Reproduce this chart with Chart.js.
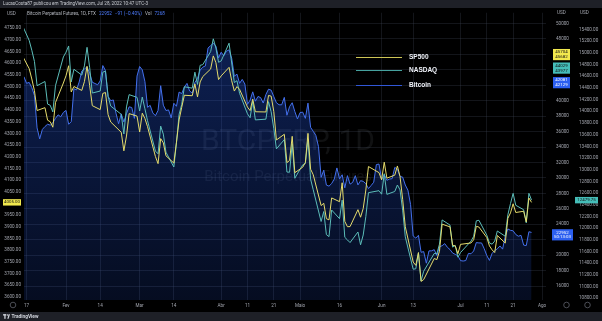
<!DOCTYPE html>
<html>
<head>
<meta charset="utf-8">
<script src="https://cdn.jsdelivr.net/npm/chart.js@4.4.0/dist/chart.umd.min.js"></script>
<style>
  html, body { margin: 0; padding: 0; background: #000; }
  #wrap { width: 602px; height: 321px; }
</style>
</head>
<body>
<div id="wrap"><canvas id="chart" width="602" height="321"></canvas></div>
<script>
// trading days (month-day, 2022) shared by SP500 and NASDAQ
const stockDates = [
  '01-14','01-18','01-19','01-20','01-21','01-24','01-25','01-26','01-27','01-28','01-31',
  '02-01','02-02','02-03','02-04','02-07','02-08','02-09','02-10','02-11','02-14','02-15','02-16','02-17','02-18','02-22','02-23','02-24','02-25','02-28',
  '03-01','03-02','03-03','03-04','03-07','03-08','03-09','03-10','03-11','03-14','03-15','03-16','03-17','03-18','03-21','03-22','03-23','03-24','03-25','03-28','03-29','03-30','03-31',
  '04-01','04-04','04-05','04-06','04-07','04-08','04-11','04-12','04-13','04-14','04-18','04-19','04-20','04-21','04-22','04-25','04-26','04-27','04-28','04-29',
  '05-02','05-03','05-04','05-05','05-06','05-09','05-10','05-11','05-12','05-13','05-16','05-17','05-18','05-19','05-20','05-23','05-24','05-25','05-26','05-27','05-31',
  '06-01','06-02','06-03','06-06','06-07','06-08','06-09','06-10','06-13','06-14','06-15','06-16','06-17','06-21','06-22','06-23','06-24','06-27','06-28','06-29','06-30',
  '07-01','07-05','07-06','07-07','07-08','07-11','07-12','07-13','07-14','07-15','07-18','07-19','07-20','07-21','07-22','07-25','07-26','07-27','07-28'
];
const sp500 = [
  4662.85, 4577.11, 4532.76, 4482.73, 4397.94, 4410.13, 4356.45, 4349.93, 4326.51, 4431.85, 4515.55,
  4546.54, 4589.38, 4477.44, 4500.53, 4483.87, 4521.54, 4587.18, 4504.08, 4418.64, 4401.67, 4471.07, 4475.01, 4380.26, 4348.87, 4304.76, 4225.50, 4288.70, 4384.65, 4373.94,
  4306.26, 4386.54, 4363.49, 4328.87, 4201.09, 4170.70, 4277.88, 4259.52, 4204.31, 4173.11, 4262.45, 4357.86, 4411.67, 4463.12, 4461.18, 4511.61, 4456.24, 4520.16, 4543.06, 4575.52, 4631.60, 4602.45, 4530.41,
  4545.86, 4582.64, 4525.12, 4481.15, 4500.21, 4488.28, 4412.53, 4397.45, 4446.59, 4392.59, 4391.69, 4462.21, 4459.45, 4393.66, 4271.78, 4296.12, 4175.20, 4183.96, 4287.50, 4131.93,
  4155.38, 4175.48, 4300.17, 4146.87, 4123.34, 3991.24, 4001.05, 3935.18, 3930.08, 4023.89, 4008.01, 4088.85, 3923.68, 3900.79, 3901.36, 3973.75, 3941.48, 3978.73, 4057.84, 4158.24, 4132.15,
  4101.23, 4176.82, 4108.54, 4121.43, 4160.68, 4115.77, 4017.82, 3900.86, 3749.63, 3735.48, 3789.99, 3666.77, 3674.84, 3764.79, 3759.89, 3795.73, 3911.74, 3900.11, 3821.55, 3818.83, 3785.38,
  3825.33, 3831.39, 3845.08, 3902.62, 3899.38, 3854.43, 3818.80, 3801.78, 3790.38, 3863.16, 3830.85, 3936.69, 3959.90, 3998.95, 3961.63, 3966.84, 3921.05, 4023.61, 4005.00
];
const nasdaq = [
  15611.96, 15212.8, 15044.4, 14853.6, 14438.7, 14510.3, 14123.9, 14103.4, 13990.0, 14439.0, 14930.1,
  15011.4, 15117.9, 14503.2, 14719.7, 14620.1, 14777.1, 15094.9, 14747.2, 14312.7, 14346.8, 14669.7, 14686.5, 14255.2, 14090.5, 13947.9, 13612.4, 14075.3, 14285.2, 14238.9,
  14005.9, 14244.5, 14043.3, 13838.5, 13319.4, 13272.6, 13747.1, 13610.1, 13301.8, 13046.6, 13458.6, 13949.0, 14118.6, 14420.0, 14396.1, 14669.5, 14460.0, 14786.9, 14798.4, 15022.7, 15240.8, 15083.0, 14838.5,
  14862.0, 15166.0, 14826.6, 14491.8, 14523.8, 14307.4, 13956.6, 13890.3, 14173.0, 13852.7, 13865.6, 14165.6, 13992.4, 13706.0, 13357.6, 13515.3, 12960.7, 12957.6, 13445.0, 12854.8,
  13084.4, 13108.0, 13523.8, 12840.0, 12658.0, 12115.0, 12285.0, 11890.0, 11856.0, 12311.0, 12163.0, 12480.0, 11844.0, 11799.0, 11754.0, 11935.0, 11716.0, 11884.0, 12199.0, 12608.0, 12642.0,
  12581.9, 12932.0, 12579.4, 12628.1, 12738.8, 12656.3, 12308.9, 11851.3, 11298.0, 11305.0, 11580.0, 11099.0, 11264.0, 11567.0, 11563.0, 11727.0, 12141.0, 12053.0, 11676.0, 11705.0, 11503.7,
  11583.4, 11779.4, 11860.5, 12125.7, 12135.0, 11880.0, 11748.0, 11726.0, 11780.0, 11952.0, 11862.0, 12230.0, 12421.0, 12596.0, 12392.0, 12316.0, 12091.0, 12597.0, 12479.75
];
// daily closes, first one on btcStart
const btcStart = '01-14';
const bitcoin = [
  43080, 43070, 43110, 42250, 42370, 41690, 40690, 36480, 35060, 36280, 36660, 36950, 36840, 37140, 37720, 38170, 37920, 38480,
  38740, 36950, 37290, 41550, 41400, 42410, 43840, 44110, 44370, 43550, 42390, 42230, 42070, 42560, 44550, 43910, 40570, 40000, 40100, 38390, 37020, 38300, 37250, 38330, 39210, 39120, 37710, 43190,
  44430, 44000, 42470, 39150, 39400, 38420, 38060, 38740, 41940, 39420, 38730, 38810, 37780, 39670, 39280, 41120, 40920, 41770, 42240, 41260, 41000, 42360, 42890, 43960, 44350, 44500, 46820, 47130, 47450, 47060, 45540,
  46280, 45810, 46410, 46580, 45500, 43170, 43440, 42250, 42760, 42160, 39530, 40080, 41150, 39940, 40550, 40400, 39700, 40800, 41490, 41370, 40530, 39740, 39470, 39470, 40430, 38120, 39240, 39740, 38600, 37640,
  38470, 38520, 37720, 39690, 36550, 36040, 35500, 34060, 30080, 31010, 29080, 28940, 29280, 29860, 31300, 29890, 30420, 28720, 30300, 29200, 29430, 30300, 29100, 29650, 29560, 29260, 28630, 29020, 29450, 31730, 31800,
  29800, 30450, 29700, 29860, 29910, 31370, 31130, 30200, 30110, 29090, 28420, 26580, 22490, 22210, 22580, 20380, 20470, 18970, 20560, 20570, 20720, 19970, 21100, 21230, 21500, 21030, 20730, 20280, 20110, 19930,
  19300, 19250, 19310, 20230, 20190, 20550, 21640, 21590, 21590, 20850, 19950, 19330, 20230, 20590, 20830, 21200, 20790, 22420, 23400, 23220, 23160, 22680, 22460, 22580, 21310, 21250, 23043, 22952
];

const xTickDates = ['01-17','02-01','02-14','03-01','03-14','04-01','04-11','04-21','05-01','05-16','06-01','06-13','07-01','07-11','07-21','08-01'];
const xTickLabels = ['17','Fev','14','Mar','14','Abr','11','21','Maio','16','Jun','13','Jul','11','21','Ago'];
const spTicks = [3600,3650,3700,3750,3800,3850,3900,3950,4000,4050,4100,4150,4200,4250,4300,4350,4400,4450,4500,4550,4600,4650,4700,4750];
const nasdaqTicks = [10800,11000,11200,11400,11600,11800,12000,12200,12400,12600,12800,13000,13200,13400,13600,13800,14000,14200,14400,14600,14800,15000,15200,15400];
const btcTicks = [16000,18000,20000,22000,24000,26000,28000,30000,32000,34000,36000,38000,40000,42000,44000,46000,48000,50000];

const legendNames = ['SP500', 'NASDAQ', 'Bitcoin'];
const legendLevels = [45700, 43950, 42065];   // where the legend lines sit on the bitcoin scale
const legendBoxText = [['45704', '45682'], ['44029', '43977'], ['42081', '42129']];

const YELLOW = '#e5dc6c', TEAL = '#5cbdb9', BLUE = '#4470ec';
const legendColors = ['#cdc556', '#46a29e', '#3157d6'];
const GRID = 'rgba(70,76,92,0.28)';
const LABEL = '#a3a6af';

function dayOf(md) {
  const [m, d] = md.split('-').map(Number);
  return (Date.UTC(2022, m - 1, d) - Date.UTC(2022, 0, 1)) / 86400000;
}
const xTickDays = xTickDates.map(dayOf);

const spPoints = stockDates.map((d, i) => ({ x: dayOf(d), y: sp500[i] }));
const nqPoints = stockDates.map((d, i) => ({ x: dayOf(d), y: nasdaq[i] }));
const btcPoints = bitcoin.map((v, i) => ({ x: dayOf(btcStart) + i, y: v }));

const lastSp = sp500[sp500.length - 1];
const lastNq = nasdaq[nasdaq.length - 1];
const lastBtc = bitcoin[bitcoin.length - 1];

const tickFont = { family: 'Roboto', size: 4.6 };

function setTicks(list) {
  return function (scale) { scale.ticks = list.map(v => ({ value: v })); };
}

const frame = {
  id: 'frame',
  beforeDraw(chart) {
    const c = chart.ctx;
    c.save();
    c.fillStyle = '#000';
    c.fillRect(0, 0, chart.width, chart.height);
    c.fillStyle = '#1e2027';
    c.fillRect(0, 0, chart.width, 8);
    c.fillRect(0, 312, chart.width, 9);
    c.restore();
  },
  beforeDatasetsDraw(chart) {
    const c = chart.ctx, a = chart.chartArea;
    c.save();
    c.beginPath(); c.rect(a.left, a.top, a.right - a.left, a.bottom - a.top); c.clip();
    c.fillStyle = 'rgba(130,136,152,0.12)';
    c.textAlign = 'center';
    c.textBaseline = 'alphabetic';
    c.font = '30px Roboto';
    c.fillText('BTCPERP, 1D', 288, 150);
    c.font = '15px Roboto';
    c.fillText('Bitcoin Perpetual Futures', 288, 181);
    c.restore();
  },
  afterDraw(chart) {
    const c = chart.ctx, s = chart.scales;
    c.save();
    c.textBaseline = 'middle';

    // top line
    c.font = '4.6px Roboto';
    c.fillStyle = '#c9ccd3';
    c.textAlign = 'left';
    c.fillText('LucasCosta87 publicou em TradingView.com, Jul 28, 2022 10:47 UTC-3', 3, 4.2);

    // pane header
    let x = 27;
    const parts = [['Bitcoin Perpetual Futures, 1D, FTX', '#b5b8c0'], [String(lastBtc), '#4d7cff'],
      ['\u221291 (\u22120.40%)', '#4d7cff'], ['Vol', '#b5b8c0'], ['7268', '#4d7cff']];
    parts.forEach(([t, col]) => {
      c.fillStyle = col;
      c.fillText(t, x, 14);
      x += c.measureText(t).width + 3;
    });

    // currency captions
    c.fillStyle = LABEL;
    c.fillText('USD', 7, 14);
    c.fillText('USD', 557, 12.7);
    c.fillText('USD', 580, 12.7);

    // drawn legend
    legendNames.forEach((name, i) => {
      const y = Math.round(s.yBtc.getPixelForValue(legendLevels[i])) + 0.5;
      c.strokeStyle = legendColors[i];
      c.lineWidth = 1.2;
      c.beginPath(); c.moveTo(356, y); c.lineTo(402, y); c.stroke();
      c.fillStyle = '#f0f3fa';
      c.font = 'bold 6.5px "Liberation Sans"';
      c.fillText(name, 409, y);
    });

    // price labels on the scales
    function box(x0, w, yc, lines, bg, fg) {
      const h = lines.length * 4.8 + 1.6;
      c.fillStyle = bg;
      c.fillRect(x0, yc - 3.2, w, h);
      c.fillStyle = fg;
      c.font = '4.4px Roboto';
      c.textAlign = 'center';
      lines.forEach((t, k) => c.fillText(t, x0 + w / 2, yc + k * 4.8));
    }
    legendNames.forEach((name, i) => {
      const yc = s.yBtc.getPixelForValue(legendLevels[i]) - 4.5;
      box(553, 17, yc, legendBoxText[i], ['#f2e94e', '#45bdb8', '#2c5ff0'][i], i === 2 ? '#fff' : '#111');
    });
    box(552, 21, s.yBtc.getPixelForValue(lastBtc), [String(lastBtc), '50:13:03'], '#2c5ff0', '#fff');
    box(575, 23, s.yNq.getPixelForValue(lastNq), [lastNq.toFixed(2)], '#45bdb8', '#111');
    box(3, 18, s.ySp.getPixelForValue(lastSp), [lastSp.toFixed(2)], '#f2e94e', '#111');

    // small scale buttons
    c.strokeStyle = '#6a6d78';
    c.lineWidth = 0.7;
    [13, 566.5, 587.5].forEach(cx => { c.beginPath(); c.arc(cx, 305, 2.8, 0, Math.PI * 2); c.stroke(); });

    // footer logo
    c.fillStyle = '#d1d4dc';
    c.fillRect(3, 314.2, 3.2, 1.3);
    c.fillRect(4.3, 314.2, 1.3, 4.6);
    c.beginPath(); c.arc(7.4, 315, 0.8, 0, Math.PI * 2); c.fill();
    c.beginPath(); c.moveTo(8.6, 314.2); c.lineTo(10, 314.2); c.lineTo(8.6, 318.8); c.lineTo(7.3, 318.8); c.fill();
    c.textAlign = 'left';
    c.font = 'bold 4.8px Roboto';
    c.fillText('TradingView', 11.5, 316.6);
    c.restore();
  }
};

const ctx = document.getElementById('chart').getContext('2d');
new Chart(ctx, {
  type: 'line',
  data: {
    datasets: [
      {
        label: 'Bitcoin', data: btcPoints, yAxisID: 'yBtc', order: 3,
        borderColor: BLUE, borderWidth: 1, pointRadius: 0, tension: 0,
        fill: 'start',
        backgroundColor(context) {
          const a = context.chart.chartArea;
          if (!a) return 'rgba(41,98,255,0.2)';
          const g = context.chart.ctx.createLinearGradient(0, a.top, 0, a.bottom);
          g.addColorStop(0, 'rgba(41,98,255,0.34)');
          g.addColorStop(1, 'rgba(41,98,255,0.13)');
          return g;
        }
      },
      {
        label: 'NASDAQ', data: nqPoints, yAxisID: 'yNq', order: 2,
        borderColor: TEAL, borderWidth: 1, pointRadius: 0, tension: 0, fill: false
      },
      {
        label: 'SP500', data: spPoints, yAxisID: 'ySp', order: 1,
        borderColor: YELLOW, borderWidth: 1, pointRadius: 0, tension: 0, fill: false
      }
    ]
  },
  options: {
    responsive: false,
    animation: false,
    layout: { padding: { top: 10, left: 0, right: 0, bottom: 0 }, autoPadding: false },
    plugins: { legend: { display: false }, tooltip: { enabled: false } },
    scales: {
      x: {
        type: 'linear', min: 15.03, max: 213.5,
        afterFit(scale) { scale.height = 21; },
        afterBuildTicks(scale) { scale.ticks = xTickDays.map(v => ({ value: v })); },
        ticks: {
          callback: v => { const i = xTickDays.indexOf(v); return i >= 0 ? xTickLabels[i] : ''; },
          font: tickFont, color: LABEL, padding: 3, maxRotation: 0, autoSkip: false
        },
        grid: { color: GRID, drawTicks: false },
        border: { display: false }
      },
      ySp: {
        position: 'left', min: 3587.3, max: 4816.1,
        afterFit(scale) { scale.width = 24; },
        afterBuildTicks: setTicks(spTicks),
        ticks: {
          callback: v => Math.abs(v - lastSp) < 25 ? '' : v.toFixed(2),
          font: tickFont, color: LABEL, padding: 3, autoSkip: false
        },
        grid: { display: false, drawTicks: false },
        border: { display: false }
      },
      yBtc: {
        position: 'right', weight: 1, min: 14205, max: 51385,
        afterFit(scale) { scale.width = 28; },
        afterBuildTicks: setTicks(btcTicks),
        ticks: {
          callback: v => {
            if (v - lastBtc > -1500 && v - lastBtc < 700) return '';
            if (legendLevels.some(p => Math.abs(v - p) < 1000)) return '';
            return String(v);
          },
          font: tickFont, color: LABEL, padding: 10, autoSkip: false
        },
        grid: { color: GRID, drawTicks: false },
        border: { display: false }
      },
      yNq: {
        position: 'right', weight: 2, min: 10771.2, max: 15686.4,
        afterFit(scale) { scale.width = 28; },
        afterBuildTicks: setTicks(nasdaqTicks),
        ticks: {
          callback: v => Math.abs(v - lastNq) < 60 ? '' : v.toFixed(2),
          font: tickFont, color: LABEL, padding: 5, autoSkip: false
        },
        grid: { display: false, drawTicks: false },
        border: { display: false }
      }
    }
  },
  plugins: [frame]
});
</script>
</body>
</html>
